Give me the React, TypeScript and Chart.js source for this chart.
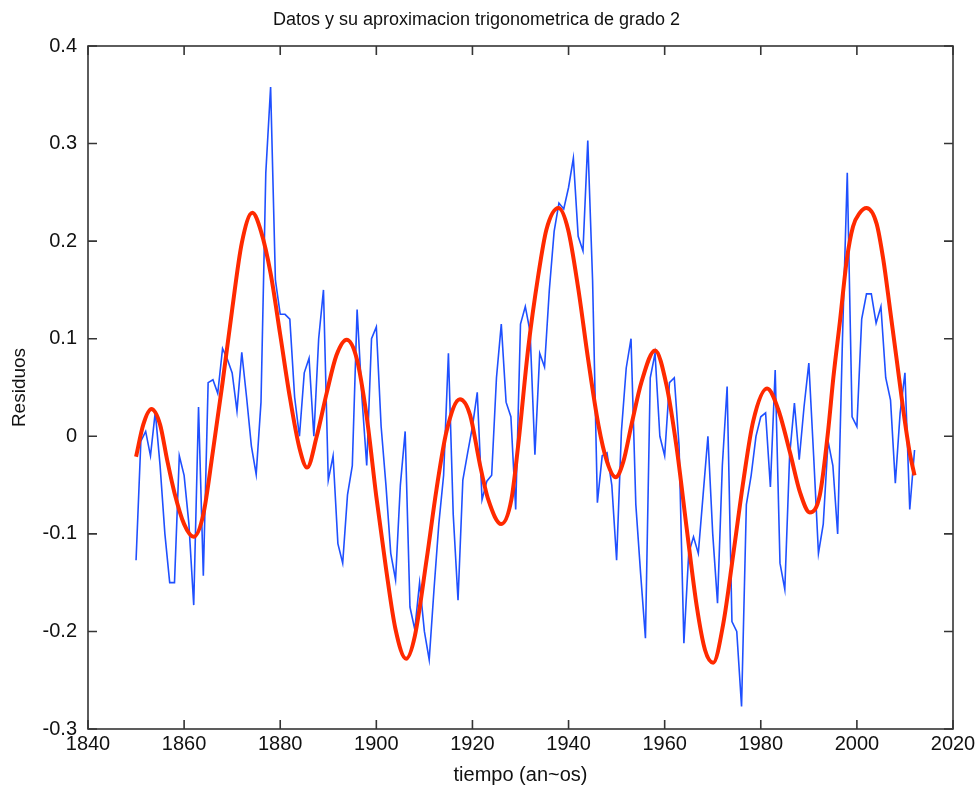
import React, { useEffect, useRef } from 'react';
import { Chart, registerables } from 'chart.js';

Chart.register(...registerables);

// ---- data ----
const titleText = 'Datos y su aproximacion trigonometrica de grado 2';
const xLabelText = 'tiempo (an~os)';
const yLabelText = 'Residuos';

const startYear = 1850;
// yearly residuals 1850 .. 2012 (blue)
const residuos = [
  -0.127, -0.005, 0.005, -0.02, 0.025, -0.03, -0.1, -0.15, -0.15, -0.02, // 1850s
  -0.04, -0.09, -0.173, 0.03, -0.143, 0.055, 0.058, 0.044, 0.09, 0.079, // 1860s
  0.065, 0.026, 0.086, 0.04, -0.01, -0.039, 0.035, 0.27, 0.358, 0.16, // 1870s
  0.125, 0.125, 0.12, 0.04, 0.0, 0.065, 0.08, 0.0, 0.1, 0.15, // 1880s
  -0.045, -0.02, -0.11, -0.13, -0.06, -0.03, 0.13, 0.04, -0.03, 0.1, // 1890s
  0.112, 0.01, -0.05, -0.12, -0.147, -0.05, 0.005, -0.175, -0.198, -0.15, // 1900s
  -0.2, -0.229, -0.157, -0.09, -0.04, 0.085, -0.08, -0.168, -0.045, -0.017, // 1910s
  0.01, 0.045, -0.065, -0.046, -0.04, 0.06, 0.115, 0.035, 0.02, -0.075, // 1920s
  0.115, 0.133, 0.107, -0.019, 0.085, 0.071, 0.15, 0.21, 0.239, 0.233, // 1930s
  0.255, 0.285, 0.205, 0.19, 0.303, 0.16, -0.068, -0.02, -0.017, -0.05, // 1940s
  -0.127, 0.005, 0.07, 0.1, -0.07, -0.141, -0.207, 0.06, 0.085, 0.0, // 1950s
  -0.02, 0.055, 0.06, -0.01, -0.212, -0.12, -0.103, -0.12, -0.06, 0.0, // 1960s
  -0.1, -0.171, -0.03, 0.051, -0.19, -0.2, -0.277, -0.07, -0.04, 0.0, // 1970s
  0.02, 0.024, -0.052, 0.068, -0.13, -0.157, -0.02, 0.034, -0.024, 0.03, // 1980s
  0.075, -0.02, -0.12, -0.09, -0.005, -0.03, -0.1, 0.1, 0.27, 0.02, // 1990s
  0.01, 0.12, 0.146, 0.146, 0.116, 0.133, 0.06, 0.037, -0.048, 0.024, // 2000s
  0.065, -0.075, -0.014, // 2010s
];

// trigonometric approximation (red)
const fitYears = [
  1850, 1851.5, 1853.2, 1855, 1856.5, 1858, 1860, 1862, 1864, 1866, 1868, 1870, 1872, 1874.2,
  1876, 1878, 1880, 1882, 1884, 1885.6, 1887.6, 1889.7, 1891.7, 1893.8, 1895.9, 1898, 1900,
  1902, 1904, 1906.2, 1908, 1910.5, 1912.5, 1914.6, 1917.4, 1919.5, 1921.6, 1923.3, 1926,
  1928.1, 1929.5, 1931.6, 1933.7, 1935.4, 1937.9, 1939.9, 1942, 1944.1, 1946.2, 1948, 1949.8,
  1951.4, 1953.1, 1955.2, 1958, 1960.4, 1962.5, 1964.6, 1966.7, 1968.4, 1970.1, 1972.2,
  1974.3, 1976.4, 1978.4, 1981.3, 1983.6, 1986.1, 1988.2, 1990.2, 1992.3, 1994, 1995.1,
  1996.5, 1997.9, 1999.2, 2000.6, 2002, 2004.1, 2005.5, 2006.9, 2008.3, 2009.65, 2011, 2012,
];
const fitValues = [
  -0.021, 0.012, 0.028, 0.012, -0.025, -0.058, -0.09, -0.103, -0.08, -0.015, 0.055, 0.13, 0.198, 0.229,
  0.21, 0.167, 0.104, 0.04, -0.012, -0.032, 0.0, 0.045, 0.083, 0.099, 0.08, 0.02, -0.062,
  -0.135, -0.198, -0.228, -0.205, -0.125, -0.055, 0.005, 0.038, 0.022, -0.03, -0.065, -0.09,
  -0.065, -0.01, 0.09, 0.165, 0.212, 0.234, 0.212, 0.152, 0.078, 0.012, -0.026, -0.042,
  -0.026, 0.012, 0.056, 0.088, 0.052, -0.012, -0.095, -0.175, -0.219, -0.232, -0.192,
  -0.12, -0.045, 0.015, 0.049, 0.028, -0.017, -0.058, -0.078, -0.06, 0.005, 0.06,
  0.119, 0.181, 0.215, 0.229, 0.234, 0.218, 0.181, 0.13, 0.078, 0.027, -0.017, -0.04,
];

const xTickValues = [1840, 1860, 1880, 1900, 1920, 1940, 1960, 1980, 2000, 2020];
const yTickValues = [-0.3, -0.2, -0.1, 0, 0.1, 0.2, 0.3, 0.4];

const FONT = '"Liberation Sans", Arial, Helvetica, sans-serif';
const TEXT = '#111111';

const boxPlugin = {
  id: 'matlabBox',
  afterDraw(chart: any) {
    const { ctx, chartArea } = chart;
    const { left, right, top, bottom } = chartArea;
    const xs = chart.scales.x;
    const ys = chart.scales.y;
    const tl = 9;
    ctx.save();
    ctx.strokeStyle = '#353535';
    ctx.lineWidth = 1.6;
    ctx.strokeRect(left, top, right - left, bottom - top);
    ctx.beginPath();
    xs.ticks.forEach((t: any) => {
      const px = xs.getPixelForValue(t.value);
      ctx.moveTo(px, bottom);
      ctx.lineTo(px, bottom - tl);
      ctx.moveTo(px, top);
      ctx.lineTo(px, top + tl);
    });
    ys.ticks.forEach((t: any) => {
      const py = ys.getPixelForValue(t.value);
      ctx.moveTo(left, py);
      ctx.lineTo(left + tl, py);
      ctx.moveTo(right, py);
      ctx.lineTo(right - tl, py);
    });
    ctx.stroke();
    ctx.restore();
  },
};

export default function App() {
  const ref = useRef<HTMLCanvasElement | null>(null);

  useEffect(() => {
    if (!ref.current) return;
    const blue = residuos.map((v, i) => ({ x: startYear + i, y: v }));
    const red = fitYears.map((x, i) => ({ x, y: fitValues[i] }));
    const chart = new Chart(ref.current, {
      type: 'line',
      data: {
        datasets: [
          {
            label: 'aproximacion',
            data: red,
            borderColor: '#ff2a00',
            borderWidth: 4,
            pointRadius: 0,
            cubicInterpolationMode: 'monotone',
            fill: false,
          },
          {
            label: 'datos',
            data: blue,
            borderColor: '#1f50ff',
            borderWidth: 1.6,
            pointRadius: 0,
            tension: 0,
            fill: false,
          },
        ],
      },
      options: {
        animation: false,
        responsive: true,
        maintainAspectRatio: false,
        parsing: false as any,
        layout: { padding: { left: 0, right: 26, top: 0, bottom: 0 } },
        plugins: {
          legend: { display: false },
          tooltip: { enabled: false },
          title: {
            display: true,
            text: titleText,
            color: TEXT,
            font: { family: FONT, size: 18, weight: 'normal' as any, lineHeight: 1.2 },
            padding: { top: 9, bottom: 15.4 },
          },
        },
        scales: {
          x: {
            type: 'linear',
            min: 1840,
            max: 2020,
            afterBuildTicks: (s: any) => {
              s.ticks = xTickValues.map((v) => ({ value: v }));
            },
            afterFit: (s: any) => {
              s.height = 62;
            },
            grid: { display: false, drawTicks: false },
            border: { display: false },
            ticks: {
              autoSkip: false,
              maxRotation: 0,
              padding: 3,
              color: TEXT,
              font: { family: FONT, size: 20 },
              callback: (v: any) => String(v),
            },
            title: {
              display: true,
              text: xLabelText,
              color: TEXT,
              font: { family: FONT, size: 20 },
              padding: { top: 0, bottom: 4 },
            },
          },
          y: {
            type: 'linear',
            min: -0.3,
            max: 0.4,
            afterBuildTicks: (s: any) => {
              s.ticks = yTickValues.map((v) => ({ value: v }));
            },
            afterFit: (s: any) => {
              s.width = 88;
            },
            grid: { display: false, drawTicks: false },
            border: { display: false },
            ticks: {
              autoSkip: false,
              padding: 11,
              color: TEXT,
              font: { family: FONT, size: 20 },
              callback: (v: any) => String(Math.round(Number(v) * 10) / 10),
            },
            title: {
              display: true,
              text: yLabelText,
              color: TEXT,
              font: { family: FONT, size: 19 },
              padding: { top: 8.6, bottom: 0 },
            },
          },
        },
      },
      plugins: [boxPlugin],
    });
    return () => chart.destroy();
  }, []);

  return (
    <div style={{ position: 'fixed', left: 0, top: 0, width: 979, height: 791, background: '#fff' }}>
      <canvas ref={ref} />
    </div>
  );
}
